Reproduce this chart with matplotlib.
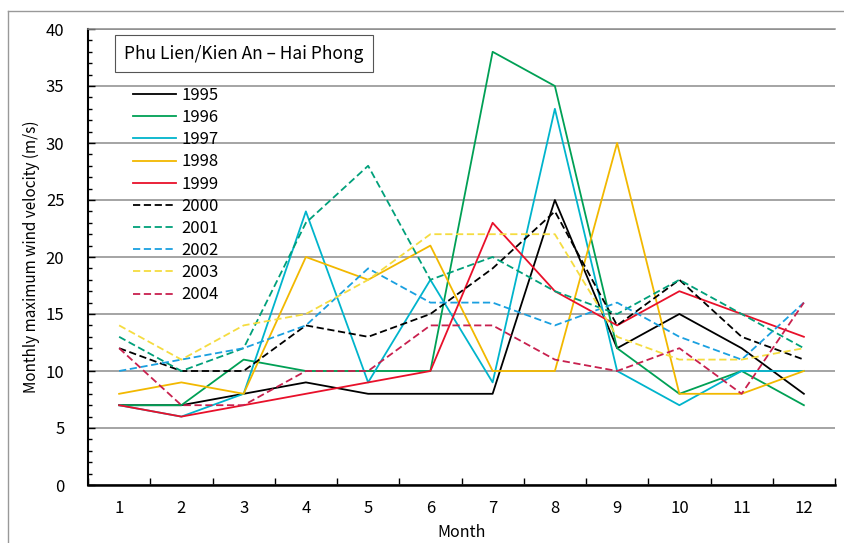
import matplotlib

matplotlib.use("Agg")
import matplotlib.pyplot as plt
from matplotlib.lines import Line2D
from matplotlib.ticker import MultipleLocator, FixedLocator

plt.rcParams["font.family"] = ["Noto Sans CJK JP", "DejaVu Sans"]

months = list(range(1, 13))
month_labels = [str(m) for m in months]

y1995 = [7, 7, 8, 9, 8, 8, 8, 25, 12, 15, 12, 8]
y1996 = [7, 7, 11, 10, 10, 10, 38, 35, 12, 8, 10, 7]
y1997 = [7, 6, 8, 24, 9, 18, 9, 33, 10, 7, 10, 10]
y1998 = [8, 9, 8, 20, 18, 21, 10, 10, 30, 8, 8, 10]
y1999 = [7, 6, 7, 8, 9, 10, 23, 17, 14, 17, 15, 13]
y2000 = [12, 10, 10, 14, 13, 15, 19, 24, 14, 18, 13, 11]
y2001 = [13, 10, 12, 23, 28, 18, 20, 17, 15, 18, 15, 12]
y2002 = [10, 11, 12, 14, 19, 16, 16, 14, 16, 13, 11, 16]
y2003 = [14, 11, 14, 15, 18, 22, 22, 22, 13, 11, 11, 12]
y2004 = [12, 7, 7, 10, 10, 14, 14, 11, 10, 12, 8, 16]

years = ["1995", "1996", "1997", "1998", "1999", "2000", "2001", "2002", "2003", "2004"]
series = [y1995, y1996, y1997, y1998, y1999, y2000, y2001, y2002, y2003, y2004]
colors = ["#000000", "#00a055", "#00b4cc", "#f2b800", "#e8102a",
          "#000000", "#00a07a", "#1aa0e0", "#f5dc40", "#c8204e"]
styles = ["-", "-", "-", "-", "-", "--", "--", "--", "--", "--"]

fig = plt.figure(figsize=(8.44, 5.43), dpi=100)
ax = fig.add_axes([88 / 844, 1 - 485 / 543, (835 - 88) / 844, (485 - 29) / 543])

handles = []
for year, vals, col, ls in zip(years, series, colors, styles):
    (ln,) = ax.plot(months, vals, color=col, linestyle=ls, linewidth=1.3,
                    dashes=(4, 2) if ls == "--" else (None, None), label=year)
    handles.append(ln)

ax.set_xlim(0.5, 12.5)
ax.set_ylim(0, 40)

# labels centred on months, tick marks on the category boundaries
ax.xaxis.set_major_locator(FixedLocator(months))
ax.set_xticklabels(month_labels)
ax.xaxis.set_minor_locator(FixedLocator([m + 0.5 for m in range(0, 13)]))
ax.tick_params(axis="x", which="major", length=0, pad=11, labelsize=12)
ax.tick_params(axis="x", which="minor", direction="in", length=5, width=1)

ax.yaxis.set_major_locator(MultipleLocator(5))
ax.yaxis.set_minor_locator(MultipleLocator(1))
ax.tick_params(axis="y", which="major", direction="in", length=5, width=1, pad=17, labelsize=12)
ax.tick_params(axis="y", which="minor", direction="in", length=3, width=1)

ax.grid(axis="y", which="major", color="#8c8c8c", linewidth=1.1)
ax.set_axisbelow(True)
ax.spines["right"].set_visible(False)
ax.spines["top"].set_color("#8c8c8c")
ax.spines["top"].set_linewidth(1.1)
ax.spines["left"].set_linewidth(1.5)
ax.spines["bottom"].set_linewidth(1.8)

ax.set_xlabel("Month", fontsize=11.5, labelpad=5)
ax.set_ylabel("Monthly maximum wind velocity (m/s)", fontsize=11, labelpad=4)

ax.text(0.209, 0.946, "Phu Lien/Kien An – Hai Phong", transform=ax.transAxes,
        fontsize=12.5, va="center", ha="center",
        bbox=dict(boxstyle="square,pad=0.55", facecolor="white", edgecolor="#555555", linewidth=0.8))

leg = ax.legend(handles=handles, loc="upper left", bbox_to_anchor=(0.06, 0.873),
                frameon=False, fontsize=12, handlelength=2.6, handletextpad=0.3,
                labelspacing=0.31, borderpad=0, borderaxespad=0)

# outer frame around the whole chart
fig.add_artist(Line2D([8 / 844, 8 / 844], [0, 1 - 11 / 543], transform=fig.transFigure,
                      color="#999999", linewidth=1))
fig.add_artist(Line2D([8 / 844, 1], [1 - 11 / 543, 1 - 11 / 543], transform=fig.transFigure,
                      color="#999999", linewidth=1))

fig.savefig("out.png", dpi=100)
